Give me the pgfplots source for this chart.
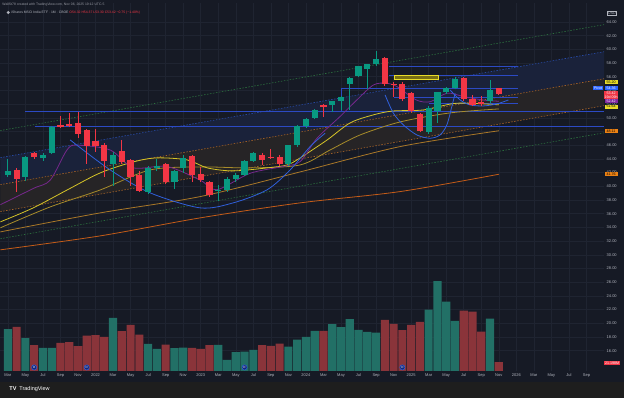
\documentclass[border=0pt]{standalone}
\usepackage{pgfplots}
\pgfplotsset{compat=1.18}
\usepackage{pgfplotstable}
\usepackage{fontspec}
\setmainfont{Liberation Sans}
\definecolor{bg}{RGB}{22,26,37}
\definecolor{outer}{RGB}{30,30,30}
\definecolor{gridc}{RGB}{31,36,49}
\definecolor{txt}{RGB}{178,181,190}
\definecolor{hdr}{RGB}{150,153,162}
\definecolor{up}{RGB}{8,153,129}
\definecolor{dn}{RGB}{242,54,69}
\definecolor{vup}{RGB}{34,112,102}
\definecolor{vdn}{RGB}{138,52,58}
\definecolor{hblue}{RGB}{44,74,196}
\definecolor{arcblue}{RGB}{48,96,220}
\definecolor{maY}{RGB}{214,196,40}
\definecolor{maG}{RGB}{168,140,42}
\definecolor{maB}{RGB}{170,120,40}
\definecolor{maO}{RGB}{196,92,24}
\definecolor{maP}{RGB}{118,40,140}
\definecolor{chG}{RGB}{44,112,62}
\definecolor{chB}{RGB}{40,76,170}
\definecolor{chO}{RGB}{168,100,40}
\definecolor{fillB}{RGB}{26,34,58}
\definecolor{fillO}{RGB}{38,36,38}
\definecolor{boxY}{RGB}{120,110,20}
\definecolor{lblY}{RGB}{232,220,40}
\definecolor{lblO}{RGB}{236,130,20}
\definecolor{lblP}{RGB}{130,40,160}
\definecolor{lblB}{RGB}{41,98,255}
\definecolor{divc}{RGB}{21,40,120}
\newcommand{\tk}{\fontsize{4}{4.5}\selectfont}
\newcommand{\lb}{\fontsize{3.6}{4}\selectfont}

\pgfplotstableread{
m o h l c
0 41.7 44.0 41.3 42.2
2 41.3 44.4 40.8 44.3
4 44.1 44.8 43.7 44.6
5 44.9 48.8 44.7 48.7
12 43.2 45.0 40.1 44.5
16 39.1 42.9 38.9 42.7
17 42.7 44.0 42.3 43.0
19 40.7 42.4 39.6 42.2
20 42.6 44.6 41.9 44.2
24 39.3 40.2 37.8 39.5
25 39.4 41.3 39.2 41.1
26 41.1 42.0 40.6 41.7
27 41.7 43.9 41.5 43.7
28 43.7 45.0 43.5 44.8
32 43.2 46.1 43.0 46.0
33 46.0 48.9 45.8 48.8
34 48.8 50.0 48.5 49.9
35 50.0 51.3 49.8 51.2
37 51.85 52.5 50.9 52.4
38 52.4 53.2 51.1 53.1
39 54.9 55.9 51.1 55.85
40 56.1 57.6 55.9 57.5
41 57.2 57.9 54.2 57.8
42 57.8 59.7 57.6 58.6
48 48.0 51.7 47.6 51.5
49 51.0 53.8 49.2 53.7
50 53.7 54.5 53.5 54.3
51 54.4 55.9 54.2 55.6
55 52.4 55.5 52.2 54.0
}\upc
\pgfplotstableread{
m o h l c
1 42.4 42.6 39.2 41.0
3 44.8 45.0 44.0 44.3
6 48.9 50.2 48.5 48.7
7 49.1 50.7 48.7 48.9
8 49.3 50.9 47.0 47.6
9 48.2 48.4 43.3 45.9
10 46.6 48.4 45.0 45.9
11 46.0 46.3 41.4 43.7
13 45.2 46.7 43.3 43.6
14 43.8 44.0 40.1 41.35
15 41.7 42.2 39.1 39.3
18 43.2 43.4 40.4 40.7
21 44.4 44.6 40.6 41.7
22 41.8 42.8 40.6 40.9
23 40.6 40.8 38.5 38.7
29 44.6 44.8 43.1 43.9
30 44.3 45.5 44.0 44.2
31 44.3 44.5 43.0 43.2
36 51.9 52.0 50.1 51.6
43 58.7 58.9 54.7 54.9
44 55.0 55.3 53.1 54.8
45 54.9 55.3 52.5 52.7
46 53.6 53.8 50.8 51.0
47 50.5 50.7 47.9 48.1
52 55.8 56.0 52.5 52.7
53 52.7 53.4 51.8 51.9
54 52.3 53.2 51.7 52.0
56 54.32 54.37 53.30 53.42
}\dnc
\pgfplotstableread{
m v
0 101.7
2 79.8
4 56.1
5 56.1
12 129.3
16 65.9
17 53.7
19 55.4
20 56.9
24 63.4
25 26.8
26 45.6
27 47.1
28 51.2
32 59.3
33 76.4
34 83.0
35 97.6
37 113.9
38 106.6
39 126.1
40 100.0
41 95.2
42 93.5
48 149.6
49 218.9
50 169.1
51 122.0
55 127.6
}\volup
\pgfplotstableread{
m v
1 107.4
3 62.7
6 68.3
7 70.0
8 60.3
9 86.1
10 87.1
11 83.0
13 96.9
14 112.2
15 88.6
18 64.2
21 56.1
22 53.7
23 62.7
29 62.7
30 61.0
31 66.6
36 97.6
43 124.4
44 114.7
45 99.3
46 112.2
47 119.6
52 147.1
53 144.7
54 95.9
56 21.2
}\voldn

\begin{document}
\begin{tikzpicture}[x=1pt,y=1pt]
\fill[outer] (0,0) rectangle (624,398);
\fill[bg] (0,16) rectangle (624,398);
\pgfplotsset{base/.style={at={(0pt,27pt)}, anchor=south west, width=604pt, height=368pt, scale only axis, xmin=-0.867, xmax=68}}
% grid and ticks
\begin{axis}[base, ymin=13.05, ymax=66.77, axis line style={draw=none},
  ytick={16,18,...,64}, yticklabel pos=right,
  yticklabel={\pgfmathprintnumber[fixed,fixed zerofill,precision=2,assume math mode=true]{\tick}},
  xtick={0,2,...,66},
  xticklabels={Mar,May,Jul,Sep,Nov,2022,Mar,May,Jul,Sep,Nov,2023,Mar,May,Jul,Sep,Nov,2024,Mar,May,Jul,Sep,Nov,2025,Mar,May,Jul,Sep,Nov,2026,Mar,May,Jul,Sep},
  grid=major, major grid style={draw=gridc, line width=0.5pt},
  major tick length=0pt,
  yticklabel style={anchor=west, inner sep=0pt, xshift=2.5pt, font=\tk, text=txt},
  xticklabel style={anchor=north, inner sep=0pt, yshift=-3pt, font=\tk, text=txt}]
\addplot[draw=none] coordinates {(0,20)};
\end{axis}
% volume
\begin{axis}[base, ymin=0, ymax=898, hide axis, ybar, bar width=0.93, bar shift=0pt]
\addplot[fill=vup, draw=none] table[x=m,y=v]{\volup};
\addplot[fill=vdn, draw=none] table[x=m,y=v]{\voldn};
\end{axis}
% price
\begin{axis}[base, ymin=13.05, ymax=66.77, hide axis]
% regression channel fills
\addplot[fill=fillB, draw=none] coordinates {(-0.867,44.18) (68,59.65) (68,55.71) (-0.867,40.24)} --cycle;
\addplot[fill=fillO, draw=none] coordinates {(-0.867,40.24) (68,55.71) (68,51.77) (-0.867,36.30)} --cycle;
\addplot[chG, line width=0.6pt, dash pattern=on 1.5pt off 1.5pt] coordinates {(-0.867,48.14) (68,63.61)};
\addplot[chB, line width=0.6pt, dash pattern=on 1.5pt off 1.5pt] coordinates {(-0.867,44.18) (68,59.65)};
\addplot[chO, line width=0.6pt, dash pattern=on 1.5pt off 1.5pt] coordinates {(-0.867,40.24) (68,55.71)};
\addplot[chO, line width=0.6pt, dash pattern=on 1.5pt off 1.5pt] coordinates {(-0.867,36.30) (68,51.77)};
\addplot[chG, line width=0.6pt, dash pattern=on 1.5pt off 1.5pt] coordinates {(-0.867,32.34) (68,47.81)};
% horizontal levels
\addplot[hblue, line width=0.9pt] coordinates {(2.0,51.0) (68,51.0)};
\addplot[hblue, line width=0.9pt] coordinates {(3.04,48.72) (68,48.72)};
\addplot[hblue, line width=0.8pt] coordinates {(43.5,57.58) (58.2,57.58)};
\addplot[hblue, line width=0.8pt] coordinates {(43.5,56.26) (58.2,56.26)};
\addplot[hblue, line width=0.8pt] coordinates {(38.1,51.0) (38.1,54.32) (58.2,54.32)};
\addplot[hblue, line width=0.8pt] coordinates {(44.0,53.0) (58.2,53.0)};
\addplot[hblue, line width=0.8pt] coordinates {(48.0,52.13) (58.2,52.13)};
\addplot[fill=boxY, draw=lblY, line width=0.6pt] coordinates {(44.1,55.63) (49.1,55.63) (49.1,56.26) (44.1,56.26)} --cycle;
% moving averages
\addplot[maO, line width=0.8pt, smooth] coordinates {(-0.87,30.72) (10.54,32.76) (21.94,35.39) (33.34,37.58) (44.74,39.23) (56,41.76)};
\addplot[maB, line width=0.8pt, smooth] coordinates {(-0.87,33.34) (10.54,36.12) (21.94,38.5) (33.34,42.1) (44.74,45.8) (56,48.11)};
\addplot[maG, line width=0.8pt, smooth] coordinates {(-0.87,33.93) (4.83,36.99) (10.54,39.47) (16.24,42.39) (21.94,42.83) (27.64,42.69) (33.34,43.12) (36.76,45.31) (40.18,47.5) (44.74,49.4) (50.44,50.72) (56,51.3)};
\addplot[maY, line width=0.8pt, smooth] coordinates {(-0.87,34.8) (2.9,36.85) (6.77,39.47) (10.54,41.96) (14.3,43.56) (17.0,44.15) (20.46,43.85) (22.74,42.69) (25.7,42.25) (29.58,42.69) (31.86,43.12) (33.34,44.15) (36.42,46.77) (39.04,49.26) (41.66,50.42) (43.94,51.0) (47.4,51.15) (51.2,52.13) (56,51.9)};
\addplot[maP, line width=0.8pt, smooth] coordinates {(-0.87,37.3) (2.93,39.7) (4.83,40.9) (6.74,45.3) (7.88,46.0) (11.68,45.3) (14.3,42.7) (18.14,42.9) (21.94,40.9) (23.84,39.5) (27.64,41.9) (31.4,42.9) (33.34,43.6) (35.25,47.0) (37.9,50.2) (39.8,52.6) (41.7,54.8) (43.2,55.05) (44.4,54.55) (46.6,52.6) (48.2,52.36) (50.1,53.6) (52.0,53.1) (54.2,52.6) (56,52.42)};
% arcs
\addplot[arcblue, line width=0.8pt, smooth] coordinates {(7.11,46.77) (11.68,42.39) (16.24,39.04) (21.94,36.85) (25.7,37.58) (29.54,39.47) (32.2,42.39) (34.48,45.8) (36.19,47.75)};
\addplot[arcblue, line width=0.8pt, smooth] coordinates {(43.03,53.34) (43.98,50.67) (45.12,48.96) (46.65,47.5) (48.16,47.02) (49.3,47.5) (50.07,48.96) (50.64,51.64) (51.02,53.59)};
\addplot[arcblue, line width=0.8pt, smooth] coordinates {(50.44,54.07) (51.59,52.61) (52.73,51.88) (54.25,51.74) (55.77,52.03) (57.1,52.61)};
% candles
\addplot[draw=none, mark=none, error bars/.cd, y dir=both, y explicit, error mark=none, error bar style={draw=up, line width=0.8pt}]
  table[x=m, y expr=(\thisrow{h}+\thisrow{l})/2, y error expr=(\thisrow{h}-\thisrow{l})/2]{\upc};
\addplot[draw=none, mark=none, error bars/.cd, y dir=both, y explicit, error mark=none, error bar style={draw=dn, line width=0.8pt}]
  table[x=m, y expr=(\thisrow{h}+\thisrow{l})/2, y error expr=(\thisrow{h}-\thisrow{l})/2]{\dnc};
\addplot[draw=none, mark=none, error bars/.cd, y dir=both, y explicit, error mark=none, error bar style={draw=up, line width=6.2pt}]
  table[x=m, y expr=(\thisrow{o}+\thisrow{c})/2, y error expr={max(abs(\thisrow{o}-\thisrow{c})/2,0.08)}]{\upc};
\addplot[draw=none, mark=none, error bars/.cd, y dir=both, y explicit, error mark=none, error bar style={draw=dn, line width=6.2pt}]
  table[x=m, y expr=(\thisrow{o}+\thisrow{c})/2, y error expr={max(abs(\thisrow{o}-\thisrow{c})/2,0.08)}]{\dnc};
% dividend markers
\addplot[only marks, mark=*, mark size=2.6pt, mark options={fill=divc, draw=arcblue, line width=0.5pt},
  nodes near coords={D}, every node near coord/.append style={anchor=center, font=\fontsize{3}{3}\selectfont, text=white, inner sep=0pt}]
  coordinates {(3,13.55) (9,13.55) (27,13.55) (45,13.55)};
\end{axis}
% header
\node[anchor=west, font=\fontsize{3.4}{4}\selectfont, text=hdr, inner sep=0pt] at (2,393.5) {WallSt78 created with TradingView.com, Nov 06, 2025 19:12 UTC-5};
\fill[txt] (8,385.5) circle (1.6pt);
\node[anchor=west, font=\fontsize{3.4}{4}\selectfont, text=txt, inner sep=0pt] at (11,385.5) {iShares MSCI India ETF · 1M · CBOE \textcolor{dn}{O54.32 H54.37 L53.30 C53.42 −0.75 (−1.40\%)}};
% right labels
\node[draw=txt, fill=bg, text=txt, font=\lb, inner sep=0.7pt, line width=0.3pt] at (612,385) {USD};
\node[fill=lblY, text=black, font=\lb, inner sep=0.6pt, minimum width=13pt] at (611,315.7) {55.20};
\node[fill=lblB, text=white, font=\lb, inner sep=0.6pt] at (598,310) {Pivot};
\node[fill=lblB, text=white, font=\lb, inner sep=0.6pt, minimum width=13pt] at (611,310) {54.36};
\node[fill=dn, text=white, font=\lb, inner sep=0.6pt, minimum width=13pt, align=center] at (611,303) {53.42\\19d 09h};
\node[fill=lblP, text=white, font=\lb, inner sep=0.6pt, minimum width=13pt] at (611,296.7) {52.42};
\node[fill=lblY, text=black, font=\lb, inner sep=0.6pt, minimum width=13pt] at (611,291.3) {51.64};
\node[fill=lblO, text=black, font=\lb, inner sep=0.6pt, minimum width=13pt] at (611,267) {48.11};
\node[fill=lblO, text=black, font=\lb, inner sep=0.6pt, minimum width=13pt] at (611,224) {41.76};
\node[fill=dn, text=white, font=\lb, inner sep=0.6pt, minimum width=13pt] at (612,35) {21.198M};
% logo
\node[anchor=west, text=white, font=\fontsize{5.5}{6}\selectfont\bfseries, inner sep=0pt] at (9,9) {TV};
\node[anchor=west, text=white, font=\fontsize{5.5}{6}\selectfont, inner sep=0pt] at (19,9) {TradingView};
\end{tikzpicture}
\end{document}
